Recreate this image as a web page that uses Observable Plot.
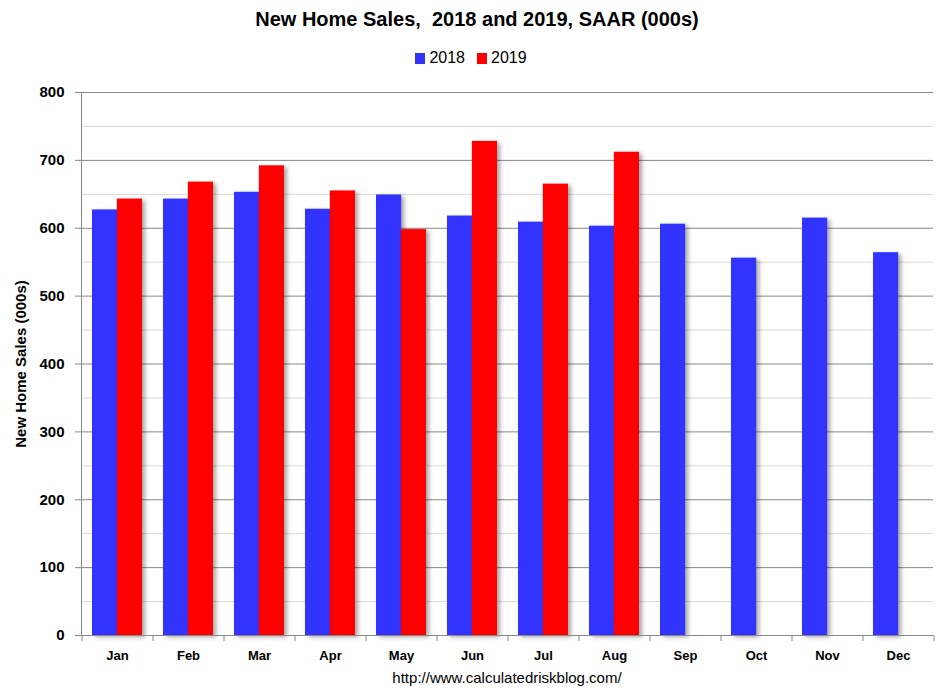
<!DOCTYPE html>
<html><head><meta charset="utf-8">
<script src="https://cdn.jsdelivr.net/npm/d3@7"></script>
<script src="https://cdn.jsdelivr.net/npm/@observablehq/plot@0.6"></script>
<style>
body{margin:0;background:#fff;font-family:"Liberation Sans",Arial,sans-serif;}
#wrap{width:942px;height:697px;position:relative;}
.title{position:absolute;left:6px;width:942px;top:8px;text-align:center;font-weight:bold;font-size:20px;color:#000;}
.legend{position:absolute;left:0;width:942px;top:49px;text-align:center;font-size:16px;color:#000;}
.legend span.sw{display:inline-block;width:10px;height:11px;margin-right:4px;vertical-align:-1px;}
.legend span.it{margin:0 6px;}
.caption{position:absolute;left:36px;width:942px;top:669px;text-align:center;font-size:15px;color:#000;}
#chart{position:absolute;left:0;top:75px;}
svg g[aria-label="bar"] rect{filter:drop-shadow(3px 2px 2px rgba(0,0,0,0.35));}
</style></head><body>
<div id="wrap">
<div class="title">New Home Sales,&nbsp; 2018 and 2019, SAAR (000s)</div>
<div class="legend" id="legend"></div>
<div id="chart"></div>
<div class="caption">http://www.calculatedriskblog.com/</div>
</div>
<script>
const months = ["Jan","Feb","Mar","Apr","May","Jun","Jul","Aug","Sep","Oct","Nov","Dec"];
const sales2018 = [627,643,653,628,649,618,609,603,606,556,615,564];
const sales2019 = [643,668,692,655,598,728,665,712];
const seriesNames = ["2018","2019"];
const colors = ["#3333FF","#FF0000"];
const majorTicks = [0,100,200,300,400,500,600,700,800];
const minorTicks = [50,150,250,350,450,550,650,750];

const legend = document.getElementById("legend");
legend.innerHTML = seriesNames.map((s,i)=>`<span class="it"><span class="sw" style="background:${colors[i]}"></span>${s}</span>`).join("");

const rows2018 = months.map((m,i)=>({month:m, year:"2018", value:sales2018[i]}));
const rows2019 = sales2019.map((v,i)=>({month:months[i], year:"2019", value:v}));

const W = 942, mL = 81, mR = 9, mT = 17, mB = 32, H = 592;
const step = (W - mL - mR) / 12;
const bw = step * 0.7;
const half = bw / 2;

const chart = Plot.plot({
  width: W, height: H,
  marginLeft: mL, marginRight: mR, marginTop: mT, marginBottom: mB,
  style: {fontFamily: "'Liberation Sans', Arial, sans-serif", background: "#fff", overflow: "visible"},
  x: {domain: months, paddingInner: 0.3, paddingOuter: 0.15, label: null},
  y: {domain: [0, 800], label: null},
  marks: [
    Plot.ruleY(minorTicks, {stroke: "#d9d9d9", strokeWidth: 1}),
    Plot.ruleY(majorTicks, {stroke: "#888", strokeWidth: 1}),
    Plot.barY(rows2018, {x: "month", y: "value", fill: colors[0], insetRight: half}),
    Plot.barY(rows2019, {x: "month", y: "value", fill: colors[1], insetLeft: half}),
    Plot.ruleY([0], {stroke: "#888"}),
    Plot.frame({anchor: "left", stroke: "#888"}),
    Plot.axisY({ticks: majorTicks, tickSize: 6, tickPadding: 11, stroke: "#888", fill: "#000", fontSize: 15, fontWeight: "bold", label: null}),
    Plot.axisX({tickSize: 0, tickPadding: 15, fontSize: 13, fontWeight: "bold", fill: "#000", label: null}),
    Plot.axisX({tickSize: 6, fill: "none", stroke: "#888", dx: -step/2, label: null}),
    Plot.axisX({ticks: ["Dec"], tickSize: 6, fill: "none", stroke: "#888", dx: step/2, label: null}),
    Plot.text(["New Home Sales (000s)"], {frameAnchor: "left", textAnchor: "middle", rotate: -90, dx: -60, fontSize: 15, fontWeight: "bold", fill: "#000"})
  ]
});
document.getElementById("chart").appendChild(chart);
</script>
</body></html>
